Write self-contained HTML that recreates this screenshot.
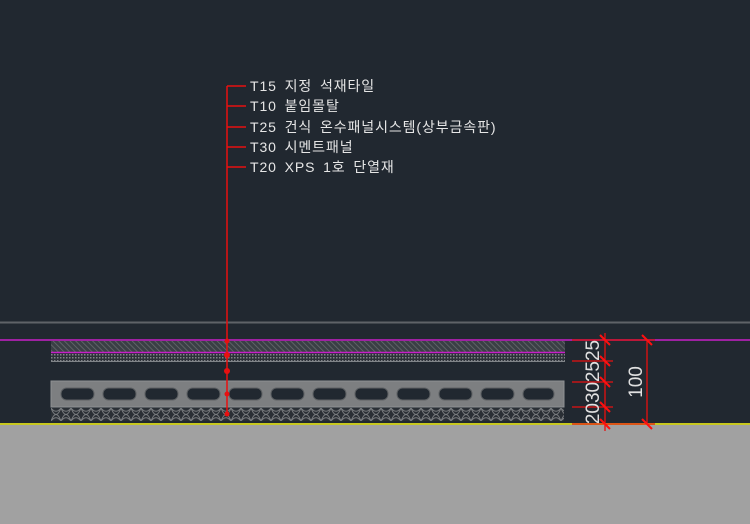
<!DOCTYPE html>
<html><head><meta charset="utf-8"><style>
html,body{margin:0;padding:0;background:#212830;}
svg{display:block}
</style></head><body>
<svg width="750" height="524" viewBox="0 0 750 524" xmlns="http://www.w3.org/2000/svg">
<defs>
<pattern id="hatch" width="4" height="4" patternUnits="userSpaceOnUse" patternTransform="rotate(-45)">
<rect width="4" height="4" fill="#3a3f45"/><line x1="0" y1="0" x2="0" y2="4" stroke="#6a6d70" stroke-width="1.5"/>
</pattern>
<pattern id="dots" width="3" height="3" patternUnits="userSpaceOnUse">
<rect width="3" height="3" fill="#2c3138"/><rect width="1.5" height="1.5" fill="#808488"/>
</pattern>
<pattern id="mesh" width="10" height="13" patternUnits="userSpaceOnUse" x="51" y="408">
<rect width="10" height="13" fill="#2a2f35"/>
<path d="M0 0 Q5 6.5 10 0 M0 13 Q5 6.5 10 13 M0 0 Q5 13 10 0 M0 13 Q5 0 10 13" fill="none" stroke="#7a7d80" stroke-width="0.9"/>
</pattern>
</defs>
<rect width="750" height="524" fill="#212830"/>
<rect x="0" y="425" width="750" height="99" fill="#a1a1a1"/>
<line x1="0" y1="322.5" x2="750" y2="322.5" stroke="#5f6368" stroke-width="2"/>
<line x1="0" y1="340" x2="750" y2="340" stroke="#c81fc8" stroke-width="1.5"/>
<rect x="51" y="341" width="514" height="11" fill="url(#hatch)"/>
<line x1="51" y1="352.5" x2="565" y2="352.5" stroke="#c81fc8" stroke-width="1.5"/>
<rect x="51" y="354" width="514" height="7" fill="url(#dots)"/>
<line x1="51" y1="361.5" x2="565" y2="361.5" stroke="#808488" stroke-width="1"/>
<rect x="51" y="381" width="513" height="26" fill="#7d7f81" stroke="#909294" stroke-width="1"/>
<g fill="#212830" stroke="#5e6164" stroke-width="1">
<rect x="61" y="388" width="33" height="12" rx="5.5"/>
<rect x="103" y="388" width="33" height="12" rx="5.5"/>
<rect x="145" y="388" width="33" height="12" rx="5.5"/>
<rect x="187" y="388" width="33" height="12" rx="5.5"/>
<rect x="229" y="388" width="33" height="12" rx="5.5"/>
<rect x="271" y="388" width="33" height="12" rx="5.5"/>
<rect x="313" y="388" width="33" height="12" rx="5.5"/>
<rect x="355" y="388" width="33" height="12" rx="5.5"/>
<rect x="397" y="388" width="33" height="12" rx="5.5"/>
<rect x="439" y="388" width="33" height="12" rx="5.5"/>
<rect x="481" y="388" width="33" height="12" rx="5.5"/>
<rect x="523" y="388" width="31" height="12" rx="5.5"/>
</g>
<rect x="51" y="408" width="513" height="13" fill="url(#mesh)"/>
<line x1="0" y1="424" x2="750" y2="424" stroke="#c8c81f" stroke-width="2"/>
<g stroke="#e81010" stroke-width="1.5">
<line x1="227" y1="86" x2="227" y2="415"/>
<line x1="227" y1="86" x2="246" y2="86"/>
<line x1="227" y1="106" x2="246" y2="106"/>
<line x1="227" y1="127" x2="246" y2="127"/>
<line x1="227" y1="147" x2="246" y2="147"/>
<line x1="227" y1="167" x2="246" y2="167"/>
</g>
<g fill="#e81010">
<circle cx="227" cy="341" r="2.5"/><circle cx="227" cy="355" r="3"/><circle cx="227" cy="371" r="3"/><circle cx="227" cy="394" r="2.5"/><circle cx="227" cy="414" r="2.5"/>
</g>
<g fill="#e6e6e6" font-family="'Liberation Sans','Noto Sans CJK KR',sans-serif" font-size="14" letter-spacing="0.9" word-spacing="3">
<text x="250" y="91">T15 지정 석재타일</text>
<text x="250" y="111">T10 붙임몰탈</text>
<text x="250" y="132">T25 건식 온수패널시스템(상부금속판)</text>
<text x="250" y="152">T30 시멘트패널</text>
<text x="250" y="172">T20 XPS 1호 단열재</text>
</g>
<g stroke="#e81010" stroke-width="1.3">
<line x1="572" y1="340" x2="655" y2="340"/>
<line x1="572" y1="361" x2="613" y2="361"/>
<line x1="572" y1="382" x2="613" y2="382"/>
<line x1="572" y1="407" x2="613" y2="407"/>
<line x1="572" y1="424" x2="655" y2="424"/>
<line x1="605" y1="333" x2="605" y2="431"/>
<line x1="647" y1="340" x2="647" y2="424"/>
</g>
<g stroke="#ff1010" stroke-width="2">
<line x1="600" y1="335" x2="610" y2="345"/><line x1="600" y1="356" x2="610" y2="366"/><line x1="600" y1="377" x2="610" y2="387"/><line x1="600" y1="402" x2="610" y2="412"/><line x1="600" y1="419" x2="610" y2="429"/>
<line x1="642" y1="335" x2="652" y2="345"/><line x1="642" y1="419" x2="652" y2="429"/>
</g>
<g fill="#e0e0e0" font-family="'Liberation Sans',sans-serif" font-size="19" text-anchor="middle">
<text transform="translate(599,361) rotate(-90)">2525</text>
<text transform="translate(599,403) rotate(-90)">2030</text>
<text transform="translate(642,382) rotate(-90)">100</text>
</g>
</svg>
</body></html>
